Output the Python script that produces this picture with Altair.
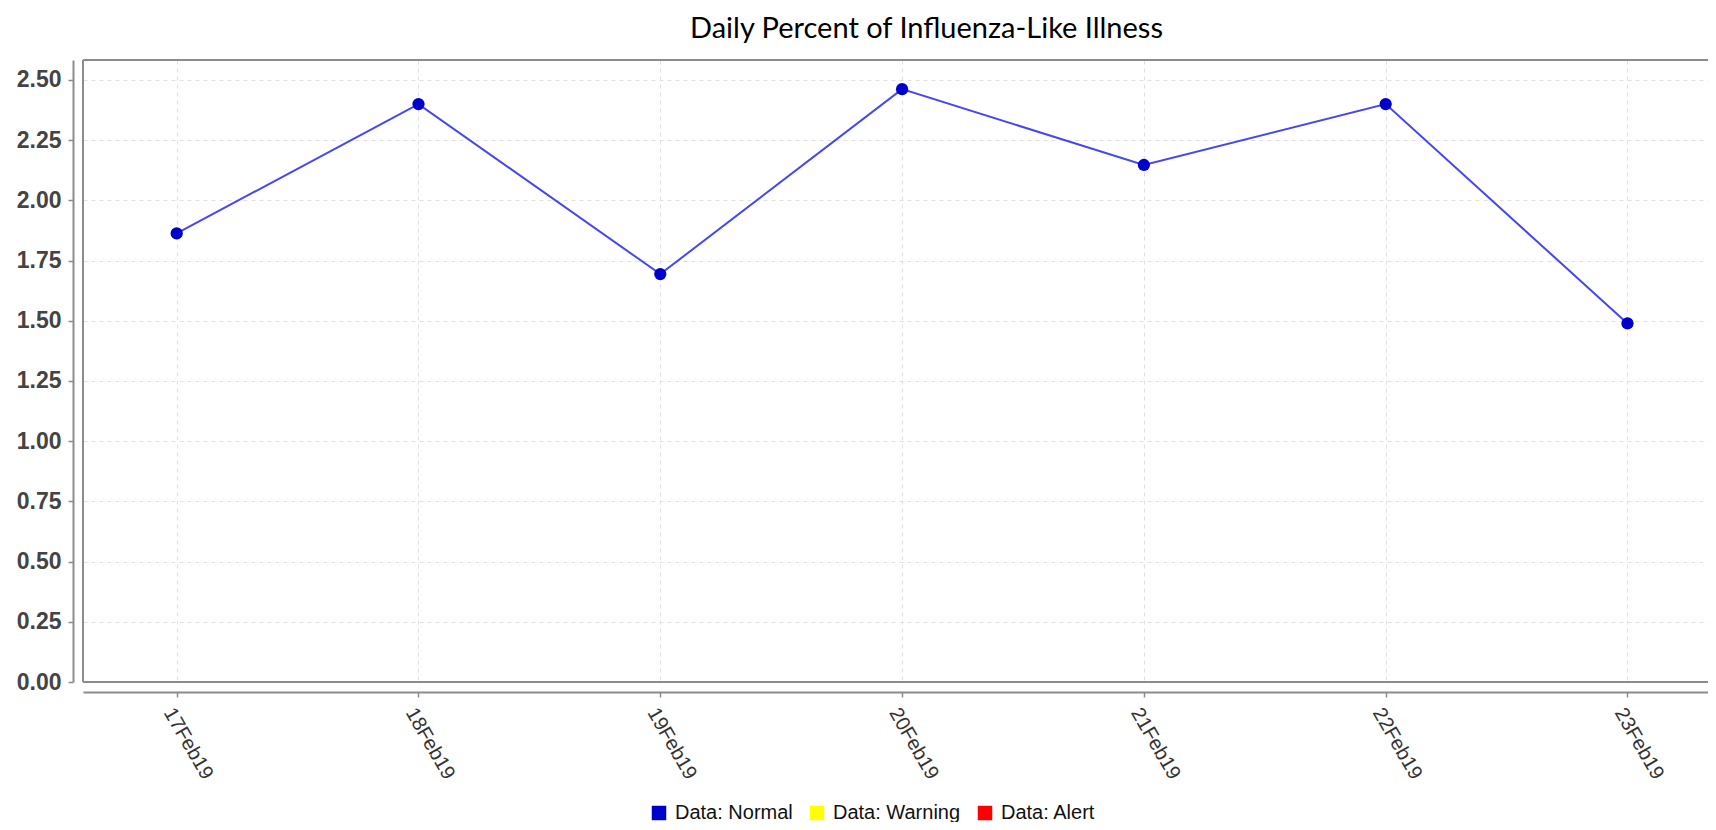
import altair as alt
import pandas as pd

# ---- data ----
dates = ["17Feb19", "18Feb19", "19Feb19", "20Feb19", "21Feb19", "22Feb19", "23Feb19"]
values = [1.863, 2.400, 1.694, 2.462, 2.147, 2.400, 1.489]
status = ["Data: Normal"] * 7
legend_labels = ["Data: Normal", "Data: Warning", "Data: Alert"]
legend_colors = ["#0000cc", "#ffff00", "#ff0000"]
y_ticks = [0.0, 0.25, 0.5, 0.75, 1.0, 1.25, 1.5, 1.75, 2.0, 2.25, 2.5]

df = pd.DataFrame({
    "idx": list(range(len(dates))),
    "date": dates,
    "value": values,
    "status": status,
})

label_expr = "[" + ",".join(f"'{d}'" for d in dates) + "][datum.value]"

GRID = "#e0e0e0"
AXIS = "#8c8c8c"
W, H = 1625, 622

x = alt.X(
    "idx:Q",
    scale=alt.Scale(domain=[-0.3875, 6.333], nice=False, zero=False),
    axis=alt.Axis(
        values=list(range(len(dates))),
        labelExpr=label_expr,
        labelAngle=60,
        labelAlign="left",
        labelBaseline="top",
        labelFont="Liberation Sans",
        labelFontSize=20,
        labelColor="#333333",
        labelPadding=7,
        labelOverlap=False,
        labelFlush=False,
        tickSize=5,
        tickColor=AXIS,
        tickWidth=1.5,
        domainColor=AXIS,
        domainWidth=2,
        offset=10,
        grid=True,
        gridColor=GRID,
        gridDash=[4, 4],
        gridWidth=1,
        title=None,
    ),
)

y = alt.Y(
    "value:Q",
    scale=alt.Scale(domain=[0, 2.583], nice=False, zero=True),
    axis=alt.Axis(
        values=y_ticks,
        format=".2f",
        labelFont="Liberation Sans",
        labelFontWeight="bold",
        labelFontSize=23,
        labelColor="#444444",
        labelPadding=7,
        tickSize=5,
        tickColor=AXIS,
        tickWidth=1.5,
        domainColor=AXIS,
        domainWidth=2,
        offset=10,
        grid=True,
        gridColor=GRID,
        gridDash=[4, 4],
        gridWidth=1,
        title=None,
    ),
)

base = alt.Chart(df).encode(x=x, y=y)

# plot frame (top, left, bottom); the right side runs off the picture
frame_top = alt.Chart(df).mark_rule(color=AXIS, strokeWidth=2).encode(
    x=alt.value(0), x2=alt.value(W), y=alt.value(0)
)
frame_left = alt.Chart(df).mark_rule(color=AXIS, strokeWidth=2).encode(
    x=alt.value(0), y=alt.value(0), y2=alt.value(H)
)
frame_bottom = alt.Chart(df).mark_rule(color=AXIS, strokeWidth=2).encode(
    x=alt.value(0), x2=alt.value(W), y=alt.value(H)
)

line = base.mark_line(color="#4646f5", strokeWidth=2)

points = base.mark_circle(size=150, opacity=1).encode(
    color=alt.Color(
        "status:N",
        scale=alt.Scale(domain=legend_labels, range=legend_colors),
        legend=alt.Legend(
            title=None,
            orient="none",
            direction="horizontal",
            legendX=566,
            legendY=743,
            symbolType="square",
            symbolSize=210,
            symbolStrokeWidth=0,
            symbolOpacity=1,
            labelFont="Liberation Sans",
            labelFontSize=20,
            labelColor="#111111",
            labelOffset=6,
            columnPadding=14,
            padding=0,
        ),
    )
)

chart = (
    alt.layer(frame_top, frame_left, frame_bottom, line, points)
    .properties(
        width=W,
        height=H,
        padding={"left": 75, "top": 52, "right": 0, "bottom": 140},
        autosize=alt.AutoSizeParams(type="none"),
        title=alt.TitleParams(
            text="Daily Percent of Influenza-Like Illness",
            font="Lato",
            fontSize=29,
            fontWeight="normal",
            color="#000000",
            anchor="middle",
            dx=31,
            offset=15,
        ),
        background="white",
    )
    .configure_view(stroke=None)
)

chart.save("out.html", embed_options={"renderer": "svg", "actions": False})
